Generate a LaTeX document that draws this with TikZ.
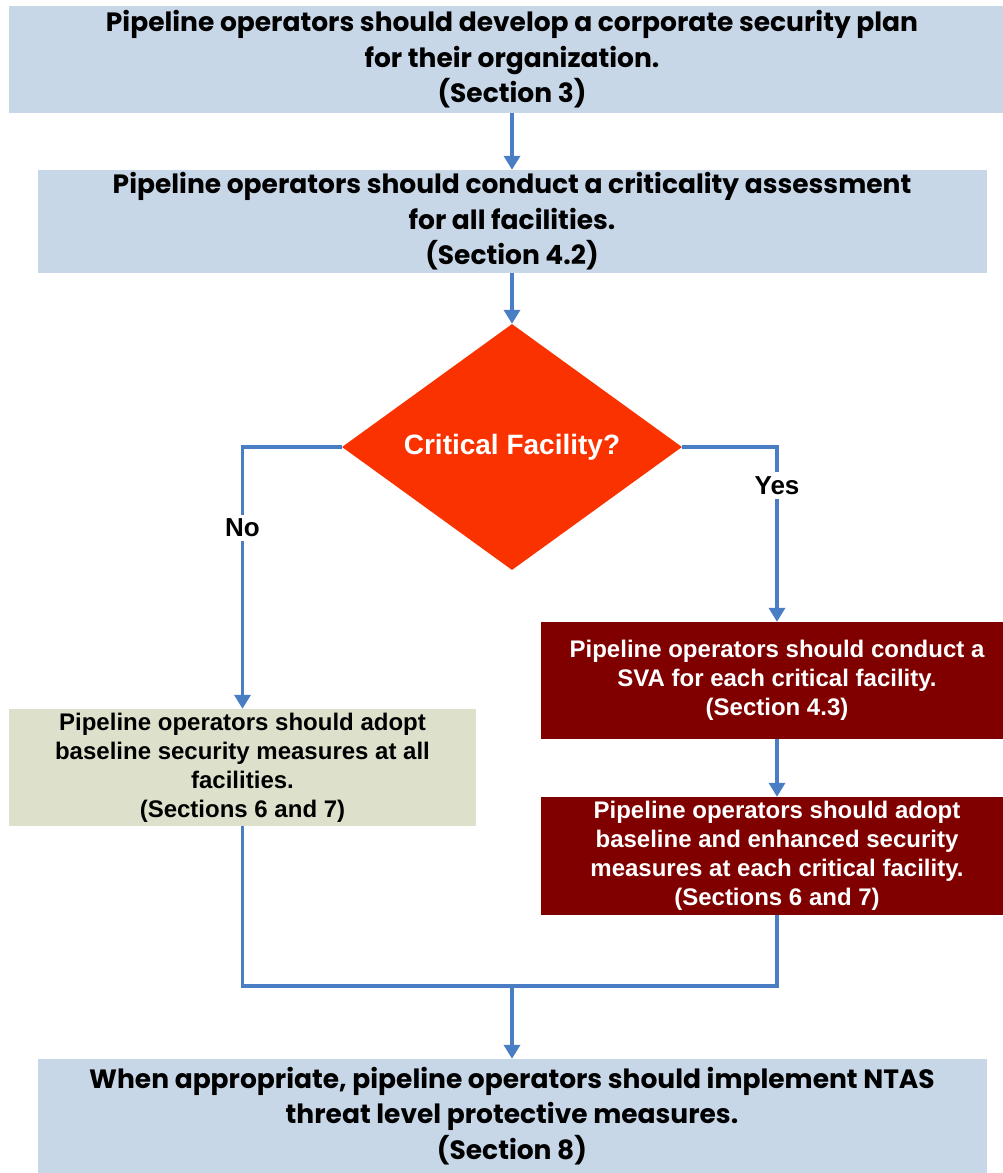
\documentclass[tikz,border=0pt]{standalone}
\usepackage{fontspec}
\setmainfont{Liberation Sans}
\newfontfamily\gothic{Poppins}
\usetikzlibrary{arrows.meta,shapes.geometric}
\definecolor{paleblue}{HTML}{C8D7E8}
\definecolor{paleolive}{HTML}{DDE1CC}
\definecolor{darkred}{HTML}{800000}
\definecolor{alarm}{HTML}{FA3200}
\definecolor{linkblue}{HTML}{4A7EC4}

\begin{document}
\begin{tikzpicture}[x=1pt,y=-1pt,
  bluebox/.style={fill=paleblue,inner sep=0pt,align=center,minimum width=949pt,
    font=\gothic\bfseries\fontsize{26.5}{35.5}\selectfont},
  olivebox/.style={fill=paleolive,inner sep=0pt,align=center,minimum width=467pt,
    minimum height=117pt,font=\bfseries\fontsize{24}{29}\selectfont},
  redbox/.style={fill=darkred,text=white,inner sep=0pt,align=center,minimum width=472pt,
    minimum height=117pt,font=\bfseries\fontsize{24}{29}\selectfont},
  decision/.style={diamond,fill=alarm,text=white,inner sep=0pt,aspect=1.38,
    minimum width=340pt,minimum height=246pt,font=\bfseries\fontsize{28}{32}\selectfont},
  link/.style={draw=linkblue,line width=3.5pt},
  arr/.style={link,-{Triangle[width=16pt,length=14pt]}},
  lbl/.style={fill=white,inner sep=4pt,font=\bfseries\fontsize{26}{30}\selectfont}]
\clip (0,0) rectangle (1003,1173);

\node[bluebox,minimum width=1006pt,minimum height=107pt] (plan) at (512,59.5)
  {Pipeline operators should develop a corporate security plan\\for their organization.\\(Section 3)};
\node[bluebox,minimum height=103pt] (assess) at (512,221.5)
  {Pipeline operators should conduct a criticality assessment\\for all facilities.\\(Section 4.2)};
\node[decision] (crit) at (512,447) {Critical Facility?};

\node[olivebox] (base) at (242.5,767.5)
  {Pipeline operators should adopt\\baseline security measures at all\\facilities.\\(Sections 6 and 7)};
\node[redbox] (sva) at (777,680.5)
  {Pipeline operators should conduct a\\SVA for each critical facility.\\(Section 4.3)};
\node[redbox,minimum height=118pt] (enh) at (777,856)
  {Pipeline operators should adopt\\baseline and enhanced security\\measures at each critical facility.\\(Sections 6 and 7)};

\node[bluebox,minimum height=114pt] (ntas) at (512,1116)
  {When appropriate, pipeline operators should implement NTAS\\threat level protective measures.\\(Section 8)};

\coordinate (join) at (512,986);

\draw[arr] (plan.south -| assess.north) -- (assess.north);
\draw[arr] (assess.south) -- (crit.north);
\draw[arr] (crit.west) -| node[lbl,pos=0.655] {No} (base.north);
\draw[arr] (crit.east) -| node[lbl,pos=0.61] {Yes} (sva.north);
\draw[arr] (sva.south) -- (enh.north);
\draw[link] (base.south) |- (join);
\draw[link] (enh.south) |- (join);
\draw[arr] (join) -- (ntas.north);
\end{tikzpicture}
\end{document}
